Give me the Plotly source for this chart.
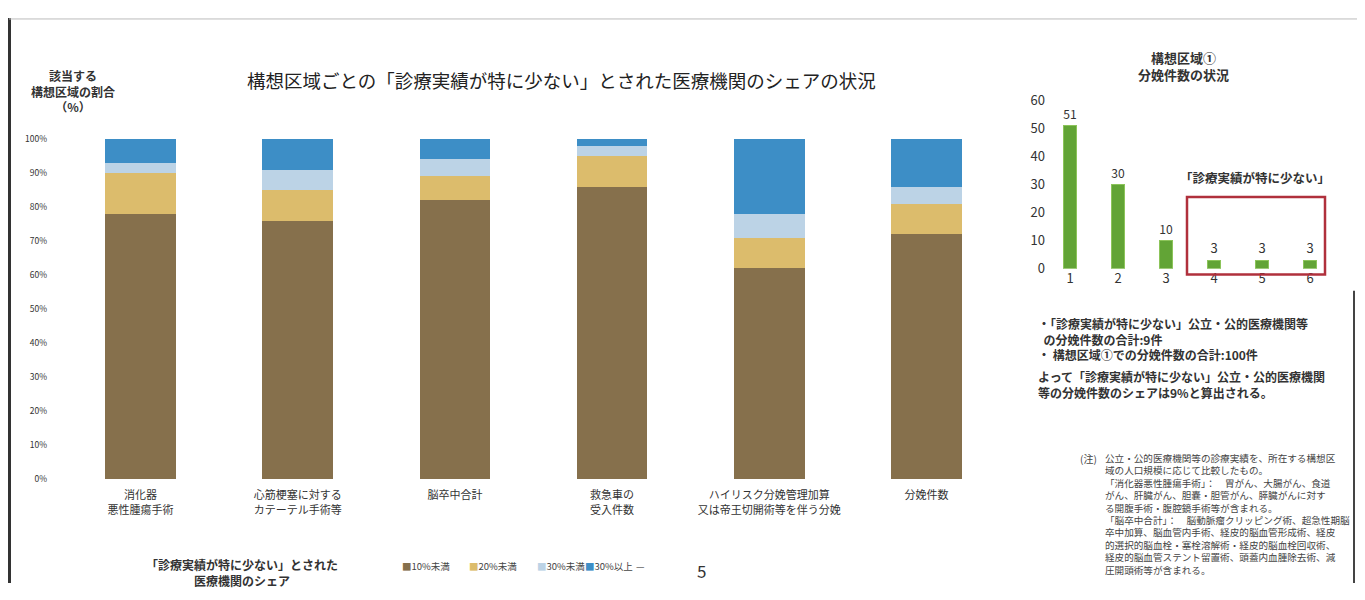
import plotly.graph_objects as go

# the page shows the figure with the browser's 8px body margin, so the figure
# is drawn 16px smaller and every position below is given in window pixels
W, H = 1349, 584
OFF = 8
FONT = "Noto Sans CJK JP"

# main chart: share of "診療実績が特に少ない" institutions, by 構想区域
categories = [
    "消化器<br>悪性腫瘍手術",
    "心筋梗塞に対する<br>カテーテル手術等",
    "脳卒中合計",
    "救急車の<br>受入件数",
    "ハイリスク分娩管理加算<br>又は帝王切開術等を伴う分娩",
    "分娩件数",
]
share_lt10 = [0.78, 0.76, 0.82, 0.86, 0.62, 0.72]
share_lt20 = [0.12, 0.09, 0.07, 0.09, 0.09, 0.09]
share_lt30 = [0.03, 0.06, 0.05, 0.03, 0.07, 0.05]
share_ge30 = [0.07, 0.09, 0.06, 0.02, 0.22, 0.14]
series_names = ["10%未満", "20%未満", "30%未満", "30%以上"]
series_colors = ["#86704c", "#dcbc6c", "#bcd3e6", "#3d8ec6"]

# right chart: 構想区域① 分娩件数
inst_ids = [1, 2, 3, 4, 5, 6]
deliveries = [51, 30, 10, 3, 3, 3]


def px_x(p):
    return (p - OFF) / W


def px_y(p):
    return 1 - (p - OFF) / H


fig = go.Figure()

for name, vals, col in zip(series_names,
                           [share_lt10, share_lt20, share_lt30, share_ge30],
                           series_colors):
    fig.add_trace(go.Bar(
        x=categories, y=vals, name=name,
        marker=dict(color=col, line=dict(width=0)),
        width=0.45, xaxis="x", yaxis="y",
    ))

fig.add_trace(go.Bar(
    x=inst_ids, y=deliveries, xaxis="x2", yaxis="y2",
    marker=dict(color="#62a436", line=dict(color="#8cc45a", width=1)),
    width=0.28, showlegend=False,
    text=deliveries, textposition="outside", cliponaxis=False,
    textfont=dict(size=13, color="#333"),
))

fig.update_layout(
    width=W, height=H,
    margin=dict(l=0, r=0, t=0, b=0),
    paper_bgcolor="white", plot_bgcolor="white",
    font=dict(family=FONT, color="#333"),
    barmode="stack",
    showlegend=False,
    xaxis=dict(
        domain=[px_x(62), px_x(1005)],
        anchor="y", showgrid=False, showline=False, ticks="",
        ticklabelstandoff=8,
        tickfont=dict(size=11, color="#333"),
    ),
    yaxis=dict(
        domain=[px_y(485), px_y(133)],
        range=[0, 1], tickformat=".0%", dtick=0.1,
        showgrid=False, zeroline=False, showline=False,
        ticklabelstandoff=14,
        tickfont=dict(size=8.5, color="#333"),
    ),
    xaxis2=dict(
        domain=[px_x(1046), px_x(1334)],
        anchor="y2", range=[0.5, 6.5], tickvals=inst_ids,
        showgrid=False, showline=False, zeroline=False,
        tickfont=dict(size=13, color="#333"),
    ),
    yaxis2=dict(
        domain=[px_y(267), px_y(93)],
        anchor="x2", range=[0, 60], dtick=10,
        showgrid=False, zeroline=False, showline=False,
        tickfont=dict(size=13, color="#333"),
    ),
)

shapes = [
    # page frame (scanned page edges)
    dict(type="line", xref="paper", yref="paper",
         x0=px_x(9.5), x1=px_x(9.5), y0=px_y(592), y1=px_y(8),
         line=dict(color="#333", width=3)),
    dict(type="line", xref="paper", yref="paper",
         x0=px_x(9), x1=px_x(1357), y0=px_y(9), y1=px_y(9),
         line=dict(color="#bbb", width=1)),
    dict(type="line", xref="paper", yref="paper",
         x0=px_x(1354), x1=px_x(1354), y0=px_y(592), y1=px_y(290),
         line=dict(color="#444", width=2)),
    # red box round the "診療実績が特に少ない" institutions
    dict(type="rect", xref="paper", yref="paper",
         x0=px_x(1187), x1=px_x(1325), y0=px_y(273), y1=px_y(193),
         line=dict(color="#b0303c", width=2.5)),
]
fig.update_layout(shapes=shapes)


def note(x, y, text, size, anchor="center", color="#333"):
    fig.add_annotation(
        x=px_x(x), y=px_y(y), xref="paper", yref="paper",
        text=text, showarrow=False, align=anchor, xanchor=anchor,
        yanchor="middle", font=dict(size=size, color=color, family=FONT),
    )


note(561, 72, "構想区域ごとの「診療実績が特に少ない」とされた医療機関のシェアの状況", 18.5, color="#222")
note(73, 83, "<b>該当する<br>構想区域の割合<br>（%）</b>", 12)
note(242, 581, "<b>「診療実績が特に少ない」とされた<br>医療機関のシェア</b>", 12)
note(702, 579, "5", 17)
note(1183, 58, "<b>構想区域①<br>分娩件数の状況</b>", 13)
note(1255, 173, "<b>「診療実績が特に少ない」</b>", 12.5)

# legend drawn as text: the plotly legend keeps 40px per symbol
legend_x = [400, 467, 535, 583]
for lx, name, col in zip(legend_x, series_names, series_colors):
    note(lx, 574, f"<span style='color:{col}'>■</span>{name}", 9.5, "left", "#444")
note(634, 574, "—", 9.5, "left", "#444")

note(1036, 340,
     "<b>・「診療実績が特に少ない」公立・公的医療機関等<br>"
     "\u00a0\u00a0の分娩件数の合計:9件<br>"
     "・ 構想区域①での分娩件数の合計:100件</b>", 12, "left")
note(1036, 387,
     "<b>よって「診療実績が特に少ない」公立・公的医療機関<br>"
     "等の分娩件数のシェアは9%と算出される。</b>", 12, "left")

note(1078, 463, "(注)", 10, "left", "#444")
note(1103, 469,
     "公立・公的医療機関等の診療実績を、所在する構想区<br>"
     "域の人口規模に応じて比較したもの。", 9.6, "left", "#444")
note(1103, 502,
     "「消化器悪性腫瘍手術」：　胃がん、大腸がん、食道<br>"
     "がん、肝臓がん、胆嚢・胆管がん、膵臓がんに対す<br>"
     "る開腹手術・腹腔鏡手術等が含まれる。", 9.6, "left", "#444")
note(1103, 553,
     "「脳卒中合計」：　脳動脈瘤クリッピング術、超急性期脳<br>"
     "卒中加算、脳血管内手術、経皮的脳血管形成術、経皮<br>"
     "的選択的脳血栓・塞栓溶解術・経皮的脳血栓回収術、<br>"
     "経皮的脳血管ステント留置術、頭蓋内血腫除去術、減<br>"
     "圧開頭術等が含まれる。", 9.6, "left", "#444")

fig.write_html("out.html")
